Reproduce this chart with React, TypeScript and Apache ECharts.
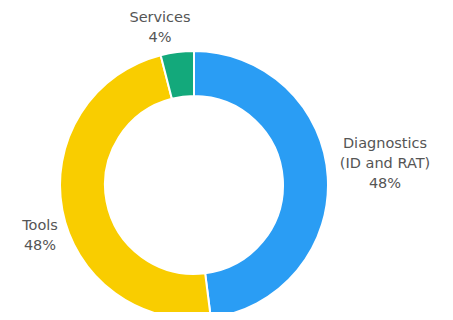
import React, { useEffect, useRef } from "react";
import * as echarts from "echarts";

const categories = ["Diagnostics\n(ID and RAT)", "Tools", "Services"];
const values = [48, 48, 4];
const colors = ["#2a9df4", "#f9cd00", "#13a97b"];

const CX = 186;
const CY = 177;
// label centre offsets from the pie centre
const labelOffsets = [
  [191, -22],
  [-154, 50],
  [-34, -158],
];

export default function App() {
  const ref = useRef<HTMLDivElement>(null);
  useEffect(() => {
    const chart = echarts.init(ref.current!, null, { renderer: "svg" });
    chart.setOption({
      animation: false,
      series: [
        {
          type: "pie",
          center: [CX, CY],
          radius: [89, 134],
          startAngle: 90,
          clockwise: true,
          itemStyle: { borderColor: "#fff", borderWidth: 2 },
          label: {
            show: true,
            position: "outside",
            formatter: "{b}\n{d}%",
            color: "#555",
            fontFamily: "DejaVu Sans",
            fontSize: 14.5,
            lineHeight: 20,
            align: "center",
            overflow: "none",
          },
          labelLine: { show: false },
          labelLayout: (p: any) => ({
            x: CX + labelOffsets[p.dataIndex][0],
            y: CY + labelOffsets[p.dataIndex][1],
            align: "center",
            verticalAlign: "middle",
          }),
          data: categories.map((c, i) => ({
            name: c,
            value: values[i],
            itemStyle: { color: colors[i] },
          })),
        },
      ],
    });
    return () => chart.dispose();
  }, []);
  return <div ref={ref} style={{ width: 437, height: 304 }} />;
}
